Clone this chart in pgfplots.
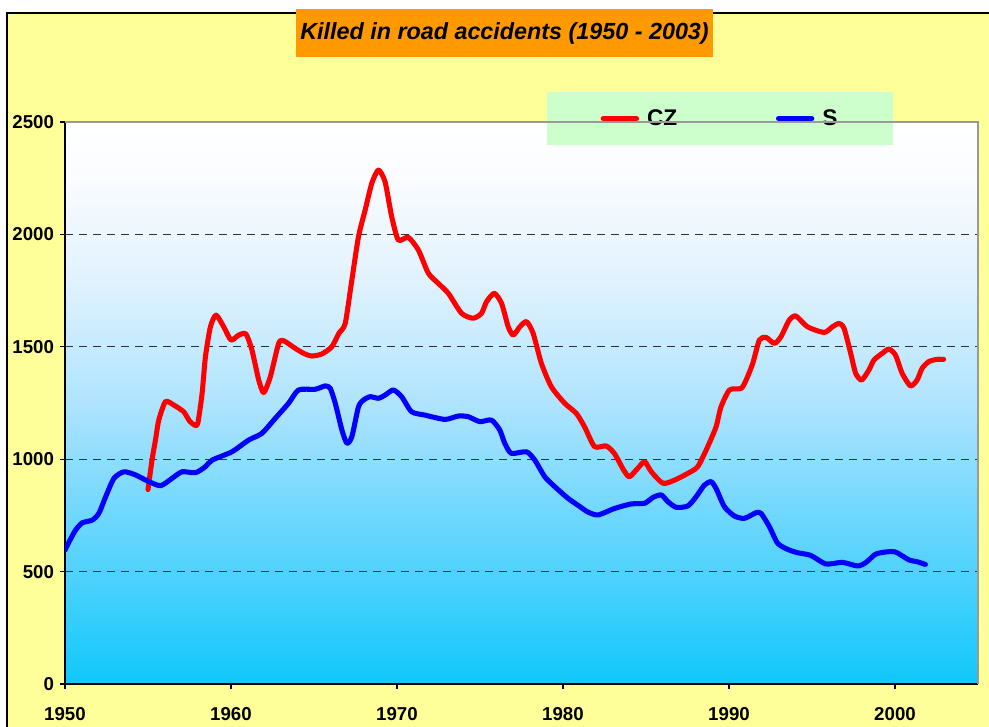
\documentclass[border=0pt]{standalone}
\usepackage{fontspec}
\setmainfont{Liberation Sans}
\usepackage{pgfplots}
\pgfplotsset{compat=1.18}
\definecolor{bgyellow}{RGB}{255,255,153}
\definecolor{titleorange}{RGB}{255,153,0}
\definecolor{legendgreen}{RGB}{204,255,204}
\definecolor{g0}{RGB}{15,200,250}
\definecolor{g1}{RGB}{80,210,252}
\definecolor{g2}{RGB}{120,217,253}
\definecolor{g3}{RGB}{175,228,253}
\definecolor{g4}{RGB}{225,242,253}
\definecolor{g5}{RGB}{250,252,255}
\pgfdeclareverticalshading{plotbg}{100bp}{color(0bp)=(g0); color(25bp)=(g0); color(35bp)=(g1); color(41.5bp)=(g2); color(50bp)=(g3); color(61bp)=(g4); color(70bp)=(g5); color(75bp)=(white); color(100bp)=(white)}
\begin{document}
\begin{tikzpicture}[x=0.75pt,y=0.75pt]
\useasboundingbox (0,0) rectangle (989,727);
\fill[white] (0,0) rectangle (989,727);
\fill[bgyellow] (7,0) rectangle (989,714);
\draw[black, line width=1.2pt] (7,0) -- (7,714) -- (989,714);
\begin{axis}[
  at={(48.75pt,32.25pt)}, anchor=south west,
  scale only axis, width=684.75pt, height=421.5pt,
  xmin=1950, xmax=2005, ymin=0, ymax=2500,
  axis lines=left, axis line style={-, black, line width=0.9pt},
  axis background/.style={shading=plotbg},
  xtick={1950,1960,...,2000}, ytick={0,500,...,2500},
  /pgf/number format/assume math mode=true,
  /pgf/number format/1000 sep={},
  ticklabel style={font=\fontsize{14}{16}\selectfont\bfseries},
  yticklabel style={xshift=-1pt},
  xticklabel style={yshift=-10pt},
  tick align=outside, major tick length=3.75pt,
  tick style={black, line width=0.8pt},
  ymajorgrids, major grid style={black!80, line width=0.7pt, dash pattern=on 6pt off 4.5pt},
  title={Killed in road accidents (1950 - 2003)},
  title style={at={(0.4814,1.144)}, anchor=center, fill=titleorange,
    minimum width=312.75pt, minimum height=36pt, inner sep=0pt,
    font=\fontsize{17.5}{20}\selectfont\bfseries\itshape},
  legend columns=2,
  legend style={at={(0.528,1.053)}, anchor=north west, fill=legendgreen, draw=none,
    font=\fontsize{17}{19}\selectfont\bfseries, inner xsep=40pt, inner ysep=11pt,
    /tikz/every even column/.append style={column sep=72pt}},
  legend image code/.code={\draw[#1, line cap=round] (0pt,0pt) -- (25pt,0pt); \path (29pt,0pt);},
  extra description/.code={\draw[gray!80, line width=1pt] (rel axis cs:0,1) -- (rel axis cs:1,1) -- (rel axis cs:1,0);},
]
\addplot[red, line width=3.8pt, line join=round, line cap=round, smooth, tension=0.4] coordinates {
(1955.0,865) (1955.25,1000) (1955.45,1085) (1955.65,1174) (1956.05,1256) (1956.55,1241)
(1957.15,1211) (1957.5,1170) (1957.8,1152) (1958.0,1160) (1958.26,1293) (1958.46,1456)
(1958.76,1589) (1959.1,1641) (1959.56,1589) (1960.0,1530) (1960.46,1552) (1960.9,1557)
(1961.26,1486) (1961.67,1352) (1961.97,1296) (1962.37,1367) (1962.87,1515) (1963.17,1527)
(1963.87,1493) (1964.4,1470) (1964.87,1459) (1965.47,1468) (1966.07,1500) (1966.5,1560)
(1966.88,1604) (1967.28,1797) (1967.68,1990) (1968.08,2108) (1968.48,2227) (1968.88,2286)
(1969.28,2234) (1969.68,2079) (1970.08,1975) (1970.68,1987) (1971.29,1930) (1971.89,1827)
(1972.49,1782) (1973.09,1738) (1973.89,1649) (1974.59,1627) (1975.09,1649) (1975.39,1700)
(1975.86,1738) (1976.3,1693) (1976.7,1589) (1977.0,1552) (1977.4,1589) (1977.8,1612)
(1978.2,1560) (1978.7,1426) (1979.3,1322) (1980.1,1249) (1980.8,1204) (1981.3,1144)
(1981.9,1056) (1982.6,1059) (1983.1,1025) (1983.65,952) (1984.0,922) (1984.5,959)
(1984.92,989) (1985.32,944) (1986.02,893) (1986.72,907) (1987.52,937) (1988.12,967)
(1988.72,1056) (1989.22,1144) (1989.52,1233) (1990.03,1308) (1990.73,1315) (1991.03,1352)
(1991.43,1426) (1991.83,1530) (1992.23,1542) (1992.73,1515) (1993.13,1545) (1993.63,1619)
(1994.03,1637) (1994.73,1589) (1995.73,1564) (1996.23,1589) (1996.63,1604) (1996.93,1582)
(1997.33,1471) (1997.63,1382) (1997.99,1352) (1998.43,1397) (1998.73,1441) (1999.23,1471)
(1999.63,1490) (2000.03,1463) (2000.43,1382) (2000.93,1326) (2001.33,1352) (2001.63,1404)
(2002.03,1434) (2002.53,1444) (2002.93,1444)
};
\addlegendentry{CZ}
\addplot[blue, line width=3.8pt, line join=round, line cap=round, smooth, tension=0.4] coordinates {
(1950.0,596) (1950.3,640) (1950.64,685) (1951.04,717) (1951.64,729) (1952.04,759)
(1952.45,833) (1952.95,915) (1953.55,944) (1954.25,930) (1954.95,904) (1955.75,882)
(1956.45,915) (1957.05,944) (1957.86,940) (1958.46,967) (1958.86,996) (1960.06,1033)
(1961.06,1085) (1961.86,1115) (1962.67,1182) (1963.47,1249) (1964.07,1308) (1965.07,1311)
(1965.68,1326) (1965.98,1315) (1966.28,1249) (1966.68,1130) (1966.98,1071) (1967.28,1100)
(1967.68,1233) (1967.98,1263) (1968.38,1278) (1968.88,1271) (1969.28,1285) (1969.78,1308)
(1970.28,1278) (1970.88,1211) (1971.69,1196) (1972.89,1177) (1973.69,1192) (1974.29,1189)
(1974.99,1167) (1975.69,1174) (1976.19,1130) (1976.49,1071) (1976.89,1026) (1977.8,1033)
(1978.3,996) (1978.9,922) (1979.5,878) (1980.3,826) (1981.0,790) (1981.5,765)
(1982.11,752) (1983.11,781) (1984.11,801) (1984.92,804) (1985.42,830) (1985.92,841)
(1986.32,811) (1986.82,786) (1987.52,792) (1988.02,833) (1988.52,885) (1988.92,900)
(1989.22,870) (1989.72,789) (1990.33,747) (1990.93,737) (1991.63,762) (1991.93,759)
(1992.43,700) (1992.93,626) (1993.53,599) (1994.13,584) (1994.93,572) (1995.83,534)
(1996.84,541) (1997.74,525) (1998.24,540) (1998.84,578) (1999.54,588) (2000.04,587)
(2000.84,552) (2001.33,544) (2001.83,532)
};
\addlegendentry{S}
\end{axis}
\end{tikzpicture}
\end{document}
